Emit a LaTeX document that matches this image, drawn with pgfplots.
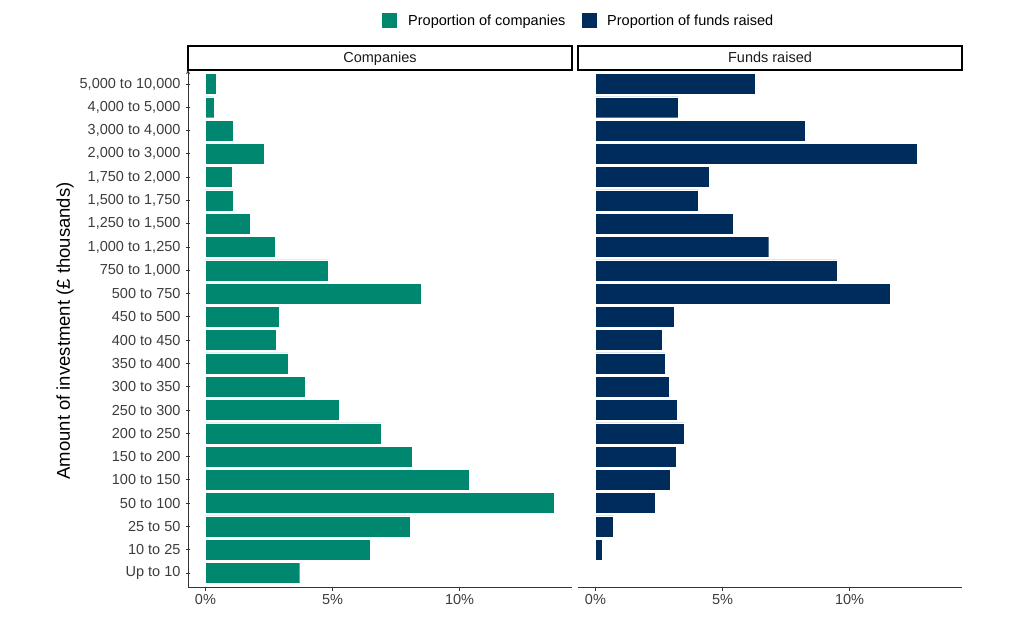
\documentclass[border=0pt]{standalone}
\usepackage{pgfplots}
\usepackage{pgfplotstable}
\pgfplotsset{compat=1.18}
\usepackage{fontspec}
\setmainfont{Liberation Sans}
\definecolor{comp}{RGB}{0,135,111}
\definecolor{fund}{RGB}{0,44,92}
\definecolor{axisgrey}{RGB}{51,51,51}
\definecolor{ticktext}{RGB}{60,60,60}
\definecolor{striptext}{RGB}{26,26,26}

\pgfplotstableread{
y comp fund
1 3.71 0.03
2 6.50 0.26
3 8.05 0.71
4 13.74 2.37
5 10.38 2.93
6 8.15 3.19
7 6.92 3.49
8 5.27 3.23
9 3.94 2.89
10 3.26 2.74
11 2.78 2.63
12 2.90 3.09
13 8.51 11.61
14 4.85 9.50
15 2.74 6.82
16 1.76 5.42
17 1.11 4.03
18 1.05 4.48
19 2.33 12.66
20 1.09 8.26
21 0.33 3.27
22 0.44 6.29
}\data

\pgfplotsset{panel/.style={
  scale only axis, width=384pt, height=517pt,
  xmin=-0.687, xmax=14.427, ymin=0.4, ymax=22.6,
  xbar, bar width=0.9, bar shift=0pt,
  axis x line=bottom,
  axis line style={-, draw=axisgrey, line width=0.9pt},
  xtick={0,5,10}, xticklabels={0\%,5\%,10\%},
  tick align=outside, major tick length=4pt,
  tick style={draw=axisgrey, line width=0.9pt},
  ticklabel style={font=\fontsize{14.5}{17}\selectfont, text=ticktext},
  minor tick num=0,
}}

\begin{document}
\begin{tikzpicture}
\path[use as bounding box] (0pt,0pt) rectangle (1024pt,638pt);

\begin{axis}[panel, at={(188pt,51pt)}, anchor=south west,
  axis y line=left,
  ytick={1,...,22},
  yticklabel style={xshift=-2pt},
  yticklabels={Up to 10,10 to 25,25 to 50,50 to 100,100 to 150,150 to 200,200 to 250,250 to 300,300 to 350,350 to 400,400 to 450,450 to 500,500 to 750,{750 to 1,000},{1,000 to 1,250},{1,250 to 1,500},{1,500 to 1,750},{1,750 to 2,000},{2,000 to 3,000},{3,000 to 4,000},{4,000 to 5,000},{5,000 to 10,000}},
]
\addplot[fill=comp, draw=white, line width=0.4pt] table[x=comp, y=y] {\data};
\end{axis}

\begin{axis}[panel, at={(578pt,51pt)}, anchor=south west,
  axis y line=none, ytick=\empty,
]
\addplot[fill=fund, draw=white, line width=0.4pt] table[x=fund, y=y] {\data};
\end{axis}

% strips
\draw[line width=1.2pt, black] (188pt,568pt) rectangle (572pt,592pt);
\node[anchor=base, inner sep=0pt, font=\fontsize{14.5}{17}\selectfont, text=striptext] at (380pt,575pt) {Companies};
\draw[line width=1.2pt, black] (578pt,568pt) rectangle (962pt,592pt);
\node[anchor=base, inner sep=0pt, font=\fontsize{14.5}{17}\selectfont, text=striptext] at (770pt,575pt) {Funds raised};

% y label
\node[rotate=90, font=\fontsize{18.5}{22}\selectfont] at (65pt,307pt) {Amount of investment (£ thousands)};

% legend
\fill[comp] (382.3pt,610.3pt) rectangle (396.7pt,625.3pt);
\node[anchor=base west, inner sep=0pt, font=\fontsize{14.5}{17}\selectfont] at (408pt,612.8pt) {Proportion of companies};
\fill[fund] (581.7pt,610.3pt) rectangle (596.7pt,625.3pt);
\node[anchor=base west, inner sep=0pt, font=\fontsize{14.5}{17}\selectfont] at (607pt,612.8pt) {Proportion of funds raised};
\end{tikzpicture}
\end{document}
